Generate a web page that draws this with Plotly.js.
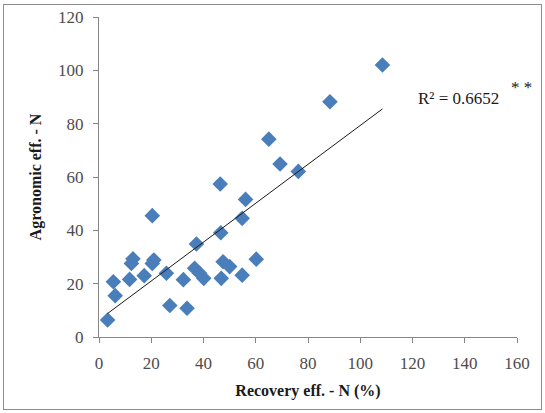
<!DOCTYPE html>
<html>
<head>
<meta charset="utf-8">
<script src="https://cdn.plot.ly/plotly-3.0.1.min.js"></script>
<style>
  html, body { margin: 0; padding: 0; background: #fff; }
  #wrap { position: relative; width: 545px; height: 413px; }
  #chart { width: 545px; height: 413px; }
  #frame { position: absolute; left: 3px; top: 4px; width: 537px; height: 404px;
           border: 1px solid #8c8c8c; pointer-events: none; }
</style>
</head>
<body>
<div id="wrap">
  <div id="chart"></div>
  <div id="frame"></div>
</div>
<script>
// Nitrogen recovery efficiency (%) vs agronomic efficiency
const recoveryN = [3.3, 5.5, 6.2, 11.7, 13.0, 12.4, 17.3, 20.4, 21.0, 20.4,
                   25.8, 27.1, 32.3, 33.7, 37.3, 36.6, 38.5, 40.1, 46.4, 46.6,
                   46.8, 47.5, 50.0, 54.8, 56.1, 54.8, 60.2, 65.0, 69.3, 76.3,
                   88.4, 108.5];
const agronomicN = [6.4, 20.7, 15.5, 21.6, 29.3, 27.6, 23.0, 45.5, 28.9, 27.6,
                    23.9, 11.8, 21.5, 10.8, 34.9, 25.8, 23.9, 22.0, 57.4, 39.1,
                    22.0, 28.2, 26.4, 44.5, 51.6, 23.2, 29.2, 74.2, 64.9, 62.1,
                    88.2, 102.0];
const xTicks = [0, 20, 40, 60, 80, 100, 120, 140, 160];
const yTicks = [0, 20, 40, 60, 80, 100, 120];
const r2Label = 'R² = 0.6652';

// least-squares linear trend over the observed range
const n = recoveryN.length;
const mx = recoveryN.reduce((a, b) => a + b, 0) / n;
const my = agronomicN.reduce((a, b) => a + b, 0) / n;
let sxy = 0, sxx = 0;
for (let i = 0; i < n; i++) {
  sxy += (recoveryN[i] - mx) * (agronomicN[i] - my);
  sxx += (recoveryN[i] - mx) ** 2;
}
const slope = sxy / sxx;
const intercept = my - slope * mx;
const xMin = Math.min(...recoveryN), xMax = Math.max(...recoveryN);

const serif = 'Liberation Serif, Times New Roman, serif';

const points = {
  x: recoveryN, y: agronomicN, type: 'scatter', mode: 'markers',
  marker: { symbol: 'diamond', size: 12, color: '#4a7ebb' },
  hoverinfo: 'x+y', showlegend: false
};
const trend = {
  x: [xMin, xMax], y: [intercept + slope * xMin, intercept + slope * xMax],
  type: 'scatter', mode: 'lines',
  line: { color: '#1a1a1a', width: 1 }, hoverinfo: 'skip', showlegend: false
};

const axisBase = {
  showgrid: false, zeroline: false, showline: true,
  linecolor: '#868686', linewidth: 1,
  ticks: 'outside', ticklen: 5, tickcolor: '#868686',
  ticklabelstandoff: 6,
  tickfont: { family: serif, size: 17, color: '#4d4d4d' }
};

const layout = {
  width: 545, height: 413,
  margin: { l: 99, r: 28, t: 17, b: 76 },
  paper_bgcolor: '#ffffff', plot_bgcolor: '#ffffff',
  xaxis: Object.assign({}, axisBase, {
    range: [0, 160], tickvals: xTicks, ticktext: xTicks.map(String),
    title: { text: '<b>Recovery eff. - N (%)</b>', standoff: 12,
             font: { family: serif, size: 16, color: '#1a1a1a' } }
  }),
  yaxis: Object.assign({}, axisBase, {
    range: [0, 120], tickvals: yTicks, ticktext: yTicks.map(String),
    title: { text: '<b>Agronomic eff. - N</b>', standoff: 12,
             font: { family: serif, size: 16, color: '#1a1a1a' } }
  }),
  annotations: [
    { xref: 'x', yref: 'y', x: 121.5, y: 89.5, xanchor: 'left', yanchor: 'middle',
      text: r2Label, showarrow: false,
      font: { family: serif, size: 17, color: '#1a1a1a' } },
    { xref: 'x', yref: 'y', x: 157, y: 93.5, xanchor: 'left', yanchor: 'middle',
      text: '* *', showarrow: false,
      font: { family: serif, size: 17, color: '#1a1a1a' } }
  ]
};

Plotly.newPlot('chart', [points, trend], layout, { displayModeBar: false, staticPlot: true });
</script>
</body>
</html>
